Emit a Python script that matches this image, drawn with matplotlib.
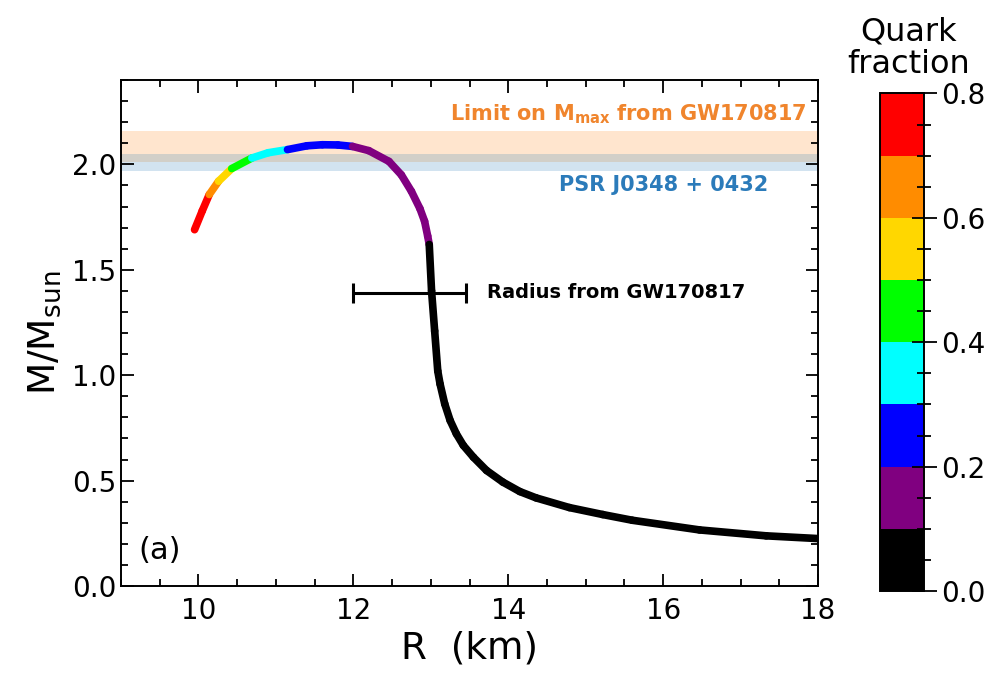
import numpy as np
import matplotlib
matplotlib.use('Agg')
import matplotlib.pyplot as plt
from matplotlib.collections import LineCollection
from matplotlib.colors import ListedColormap, BoundaryNorm
from matplotlib.ticker import MultipleLocator

# Настройки шрифта
plt.rcParams['font.family'] = ['DejaVu Sans']
plt.rcParams['mathtext.fontset'] = 'dejavusans'

# Кривая масса-радиус: R (km), M/Msun, доля кварков
radius = [9.95, 10.05, 10.14, 10.26, 10.43, 10.69, 10.90, 11.15, 11.40, 11.60,
          11.80, 11.99, 12.20, 12.46, 12.62, 12.75, 12.86, 12.92, 12.96, 12.98,
          13.01, 13.05, 13.09, 13.12, 13.18, 13.25, 13.33, 13.42, 13.55, 13.72,
          13.93, 14.15, 14.36, 14.79, 15.22, 15.60, 16.47, 17.33, 18.00]
mass = [1.69, 1.78, 1.857, 1.92, 1.98, 2.03, 2.055, 2.07, 2.088, 2.093,
        2.092, 2.085, 2.065, 2.014, 1.95, 1.872, 1.79, 1.73, 1.66, 1.62,
        1.40, 1.21, 1.02, 0.958, 0.864, 0.785, 0.722, 0.667, 0.611, 0.548,
        0.493, 0.448, 0.418, 0.372, 0.339, 0.312, 0.266, 0.238, 0.225]
quark_frac = [0.78, 0.74, 0.70, 0.60, 0.50, 0.40, 0.35, 0.30, 0.27, 0.24,
              0.22, 0.20, 0.18, 0.16, 0.15, 0.14, 0.13, 0.12, 0.11, 0.10,
              0.06, 0.04, 0.02, 0.015, 0.01, 0.005, 0.0, 0.0, 0.0, 0.0,
              0.0, 0.0, 0.0, 0.0, 0.0, 0.0, 0.0, 0.0, 0.0]

# Ограничения
gw_mmax = (2.01, 2.16)
psr_mass = (1.97, 2.05)
radius_gw = (12.0, 13.45)
radius_gw_mass = 1.39

frac_colors = ['black', '#800080', '#0000ff', '#00ffff', '#00ff00',
               '#ffd700', '#ff8c00', '#ff0000']
frac_bounds = [0.0, 0.1, 0.2, 0.3, 0.4, 0.5, 0.6, 0.7, 0.8]

cmap = ListedColormap(frac_colors)
norm = BoundaryNorm(frac_bounds, cmap.N)

fig = plt.figure(figsize=(9.9, 6.77), dpi=100)
ax = fig.add_axes([0.1222, 0.1344, 0.7041, 0.7474])

ax.axhspan(gw_mmax[0], gw_mmax[1], color='tab:orange', alpha=0.2, lw=0)
ax.axhspan(psr_mass[0], psr_mass[1], color='tab:blue', alpha=0.2, lw=0)

pts = np.column_stack([radius, mass])
segs = np.stack([pts[:-1], pts[1:]], axis=1)
qf = np.array(quark_frac)
seg_vals = (qf[:-1] + qf[1:]) / 2
lc = LineCollection(segs, cmap=cmap, norm=norm, linewidths=5.5,
                    capstyle='round', joinstyle='round')
lc.set_array(seg_vals)
ax.add_collection(lc)

ax.errorbar([np.mean(radius_gw)], [radius_gw_mass],
            xerr=[[np.mean(radius_gw) - radius_gw[0]], [radius_gw[1] - np.mean(radius_gw)]],
            fmt='none', ecolor='black', elinewidth=2.2, capsize=7, capthick=2.2, zorder=3)

ax.text(17.86, 2.236, r'Limit on M$_{\mathbf{max}}$ from GW170817', color='#f0852d',
        fontsize=15, fontweight='bold', ha='right', va='center')
ax.text(17.36, 1.904, 'PSR J0348 + 0432', color='#2b7bba',
        fontsize=15, fontweight='bold', ha='right', va='center')
ax.text(13.72, 1.39, 'Radius from GW170817', color='black',
        fontsize=14, fontweight='bold', ha='left', va='center')
ax.text(9.22, 0.17, '(a)', fontsize=22, ha='left', va='center')

ax.set_xlim(9, 18)
ax.set_ylim(0, 2.4)
ax.xaxis.set_major_locator(MultipleLocator(2))
ax.xaxis.set_minor_locator(MultipleLocator(0.5))
ax.yaxis.set_major_locator(MultipleLocator(0.5))
ax.yaxis.set_minor_locator(MultipleLocator(0.1))
ax.tick_params(which='both', direction='in', top=True, right=True, width=1.3, labelsize=20)
ax.tick_params(which='major', length=9)
ax.tick_params(which='minor', length=5)
ax.tick_params(axis='x', pad=8)
for s in ax.spines.values():
    s.set_linewidth(1.4)

ax.set_xlabel('R  (km)', fontsize=27)
ax.set_ylabel(r'M/M$_{\mathrm{sun}}$', fontsize=27, labelpad=6)

# Цветовая шкала
cax = fig.add_axes([0.889, 0.127, 0.044, 0.735])
cb = fig.colorbar(lc, cax=cax, boundaries=frac_bounds, ticks=[0.0, 0.2, 0.4, 0.6, 0.8])
cb.ax.yaxis.set_minor_locator(MultipleLocator(0.05))
cb.ax.set_yticklabels(['0.0', '0.2', '0.4', '0.6', '0.8'])
cb.ax.tick_params(which='both', direction='inout', width=1.3, labelsize=20)
cb.ax.tick_params(which='major', length=18)
cb.ax.tick_params(which='minor', length=10)
cb.outline.set_linewidth(1.4)
fig.text(0.918, 0.953, 'Quark', fontsize=23, ha='center', va='center')
fig.text(0.918, 0.905, 'fraction', fontsize=23, ha='center', va='center')

plt.savefig('out.png', dpi=100)
plt.close()
